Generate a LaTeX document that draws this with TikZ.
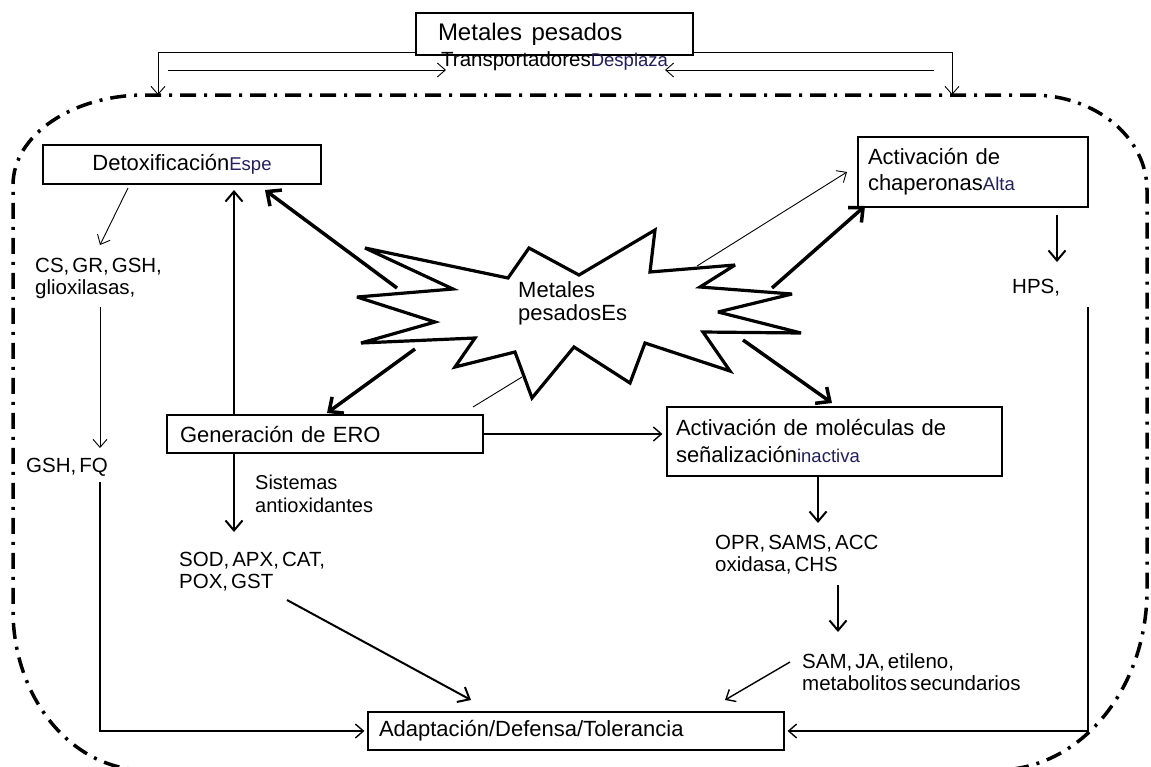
\documentclass[tikz,border=0pt]{standalone}
\usepackage{fontspec}
\setmainfont{Liberation Sans}
\usetikzlibrary{arrows.meta,calc}
\definecolor{navy}{RGB}{35,30,95}
\newcommand\myMain{\fontsize{22}{26}\selectfont}
\newcommand\myList{\fontsize{20.5}{22}\selectfont\spaceskip=3pt plus 1pt minus 1pt\relax}
\newcommand\mySmallNavy[1]{{\color{navy}\fontsize{18.5}{20}\selectfont #1}}
\begin{document}
\begin{tikzpicture}[x=1pt,y=-1pt,
  box/.style={draw, line width=1.2pt, align=left, font=\myMain, inner ysep=0pt},
  freetxt/.style={anchor=west, align=left, inner sep=0pt, font=\myList},
  frame/.style={line width=3.5pt, dash pattern=on 16pt off 8pt on 3pt off 8pt},
  starline/.style={line width=3.2pt, line join=miter, miter limit=4},
  thinarr/.style={line width=0.9pt, -{Straight Barb[length=8pt,width=14pt]}},
  linearr/.style={line width=1.4pt, -{Straight Barb[length=8pt,width=14pt]}},
  medarr/.style={line width=2pt, -{Straight Barb[length=10pt,width=17pt]}},
  thickarr/.style={line width=3.5pt, -{Straight Barb[length=11pt,width=20pt]}}
]
\useasboundingbox (0,0) rectangle (1151,766);
\fill[white] (0,0) rectangle (1151,766);

% dash-dot frame
\begin{scope}
\clip (0,0) rectangle (1151,766);
\draw[frame] (145,95) -- (1032,95)
  arc[start angle=90,end angle=0,x radius=115pt,y radius=95pt]
  -- (1147,590)
  arc[start angle=0,end angle=-90,x radius=150pt,y radius=180pt]
  -- (145,770)
  arc[start angle=-90,end angle=-180,x radius=132pt,y radius=160pt]
  -- (13,185)
  arc[start angle=180,end angle=90,x radius=132pt,y radius=90pt]
  -- cycle;
\end{scope}

% star
\draw[starline] (365,248) -- (453,289) -- (357,297) -- (435,322) -- (361,343)
  -- (475,338) -- (455,367) -- (515,352) -- (532,398) -- (574,347) -- (630,383)
  -- (645,343) -- (730,371) -- (703,332) -- (801,333) -- (718,312) -- (792,294)
  -- (700,287) -- (735,265) -- (650,272) -- (655,230) -- (579,275) -- (529,248)
  -- (508,278) -- cycle;
\node[anchor=west, align=left, inner sep=0pt, font=\fontsize{22}{23}\selectfont] (startxt) at (518,303) {Metales\\pesadosEs};

% boxes
\node[box, text width=233pt, inner xsep=22pt, minimum height=42pt, font=\fontsize{24}{28}\selectfont] (top) at (554.5,34) {Metales\hspace{0.4em}pesados};
\node[anchor=west, inner sep=0pt, font=\fontsize{20.5}{22}\selectfont] (trans) at (441,61) {Transportadores\mySmallNavy{Desplaza}};
\node[box, text width=258pt, inner xsep=10pt, minimum height=39pt, align=center] (detox) at (182,164.5) {Detoxificación\mySmallNavy{Espe}};
\node[box, text width=210pt, inner xsep=10pt, minimum height=70pt] (chap) at (973,172) {Activación de\\chaperonas\mySmallNavy{Alta}};
\node[box, text width=290pt, inner xsep=13pt, minimum height=38pt] (gen) at (325,434) {Generación de ERO};
\node[box, text width=317pt, inner xsep=9pt, minimum height=69pt, font=\fontsize{22}{27}\selectfont] (mol) at (834.5,441.5) {Activación de moléculas de\\señalización\mySmallNavy{inactiva}};
\node[box, text width=394pt, inner xsep=11pt, minimum height=38pt] (adapt) at (576,731) {Adaptación/Defensa/Tolerancia};

% free texts
\node[freetxt] (cs) at (35,278) {CS, GR, GSH,\\glioxilasas,};
\node[freetxt] (gshfq) at (26,467) {GSH, FQ};
\node[freetxt] (hps) at (1012,288) {HPS,};
\node[freetxt, font=\fontsize{20}{23}\selectfont] (sist) at (255,494) {Sistemas\\antioxidantes};
\node[freetxt] (sod) at (179,572) {SOD, APX, CAT,\\POX, GST};
\node[freetxt] (opr) at (715,555) {OPR, SAMS, ACC\\oxidasa, CHS};
\node[freetxt] (sam) at (802,672) {SAM, JA, etileno,\\metabolitos secundarios};

% coordinates
\coordinate (tl) at (158,95);
\coordinate (tr) at (952,95);
\coordinate (a1s) at (168,70);
\coordinate (a1e) at (446,70);
\coordinate (a2s) at (934,70);
\coordinate (a2e) at (665,70);
\coordinate (dxs) at (128,188);
\coordinate (dxe) at (100,245);
\coordinate (gls) at (100,307);
\coordinate (gle) at (100,448);
\coordinate (gfs) at (100,482);
\coordinate (hpss) at (1088,307);
\coordinate (gup) at (234,190);
\coordinate (gdn) at (234,532);
\coordinate (chs) at (1057,215);
\coordinate (che) at (1057,262);
\coordinate (ms) at (818,477);
\coordinate (me) at (818,523);
\coordinate (os) at (838,585);
\coordinate (oe) at (838,632);
\coordinate (sods) at (287,600);
\coordinate (sode) at (471,700);
\coordinate (sams) at (790,662);
\coordinate (same) at (725,700);
\coordinate (s1) at (397,288);
\coordinate (s1e) at (265,190);
\coordinate (s2) at (415,349);
\coordinate (s2e) at (327,413);
\coordinate (s3) at (743,340);
\coordinate (s3e) at (832,403);
\coordinate (s4) at (772,288);
\coordinate (s4e) at (865,206);
\coordinate (t1) at (697,266);
\coordinate (t1e) at (847,172);
\coordinate (t2) at (522,377);
\coordinate (t2e) at (473,407);

% top connectors
\draw[thinarr] ([yshift=3pt]top.south west) -| (tl);
\draw[thinarr] ([yshift=3pt]top.south east) -| (tr);
\draw[thinarr] (a1s) -- (a1e);
\draw[thinarr] (a2s) -- (a2e);

% left column
\draw[thinarr] (dxs) -- (dxe);
\draw[thinarr] (gls) -- (gle);
\draw[linearr, shorten >=3pt] (gfs) |- (adapt.west);
% right column
\draw[linearr, shorten >=3pt] (hpss) |- (adapt.east);
\draw[medarr] (chs) -- (che);

% generation
\draw[medarr] (gen.north -| gup) -- (gup);
\draw[medarr] (gen.south -| gdn) -- (gdn);
\draw[linearr, shorten >=4pt] (gen.east) -- (gen.east -| mol.west);
\draw[medarr] (ms) -- (me);
\draw[medarr] (os) -- (oe);
\draw[medarr] (sods) -- (sode);
\draw[linearr] (sams) -- (same);

% star arrows
\draw[thickarr] (s1) -- (s1e);
\draw[thickarr] (s2) -- (s2e);
\draw[thickarr] (s3) -- (s3e);
\draw[thickarr] (s4) -- (s4e);
\draw[thinarr] (t1) -- (t1e);
\draw[line width=0.9pt] (t2) -- (t2e);
\end{tikzpicture}
\end{document}
